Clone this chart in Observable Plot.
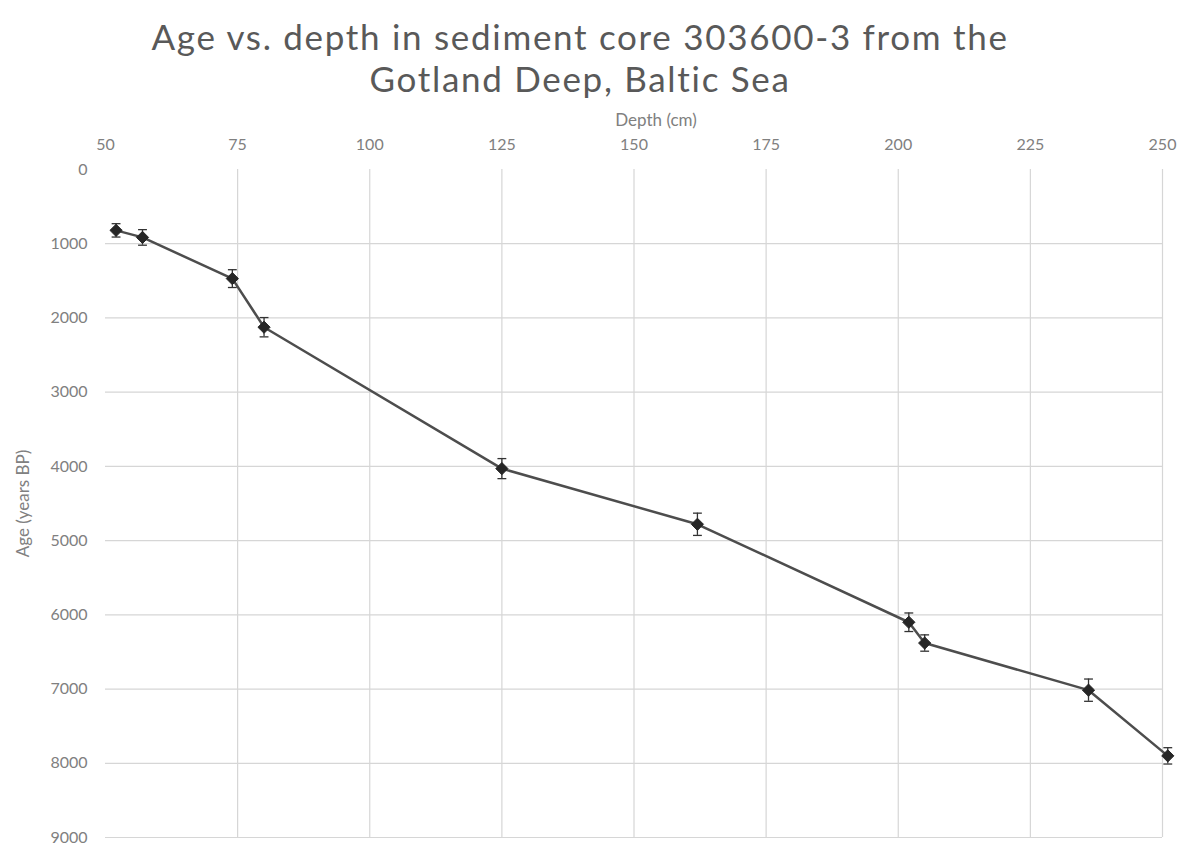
<!DOCTYPE html>
<html>
<head>
<meta charset="utf-8">
<script src="https://cdn.jsdelivr.net/npm/d3@7"></script>
<script src="https://cdn.jsdelivr.net/npm/@observablehq/plot@0.6"></script>
<style>
  html, body { margin: 0; padding: 0; background: #fff; }
  #title { height: 100px; box-sizing: border-box; padding-top: 15px; width: 1160px; text-align: center;
    font-family: Lato, "Open Sans", sans-serif; font-size: 35px; line-height: 42px; letter-spacing: 1.7px; color: #595959; }
  #chart svg { display: block; overflow: visible; }
</style>
</head>
<body>
<div id="title">Age vs. depth in sediment core 303600-3 from the<br>Gotland Deep, Baltic Sea</div>
<div id="chart"></div>
<script>
const depthCm = [52, 57, 74, 80, 125, 162, 202, 205, 236, 251];
const ageBP   = [820, 915, 1470, 2125, 4030, 4780, 6100, 6380, 7015, 7900];
const ageErr  = [90, 105, 120, 130, 135, 150, 125, 110, 150, 110];
const depthTicks = [50, 75, 100, 125, 150, 175, 200, 225, 250];
const ageTicks = [0, 1000, 2000, 3000, 4000, 5000, 6000, 7000, 8000, 9000];
const xTitle = "Depth (cm)";
const yTitle = "Age (years BP)";

const data = depthCm.map((d, i) => ({depth: d, age: ageBP[i], lo: ageBP[i] - ageErr[i], hi: ageBP[i] + ageErr[i]}));

const capSymbol = {
  draw(ctx, size) {
    const w = Math.sqrt(size) / 2;
    ctx.moveTo(-w, 0);
    ctx.lineTo(w, 0);
  }
};

const chart = Plot.plot({
  width: 1187,
  height: 744,
  marginTop: 69,
  marginBottom: 7,
  marginLeft: 105,
  marginRight: 25,
  style: {fontFamily: "Lato, 'Open Sans', sans-serif", fontSize: "16px", color: "#808080", background: "#fff"},
  x: {domain: [50, 250], label: null},
  y: {domain: [0, 9000], reverse: true, label: null},
  marks: [
    Plot.gridX(depthTicks.slice(1), {stroke: "#d6d6d6", strokeOpacity: 1, strokeWidth: 1.2}),
    Plot.gridY(ageTicks.slice(1), {stroke: "#d6d6d6", strokeOpacity: 1, strokeWidth: 1.2}),
    Plot.axisX(depthTicks, {anchor: "top", tickSize: 0, tickPadding: 20, tickFormat: d3.format("d"), fill: "#808080", label: null}),
    Plot.axisY(ageTicks, {anchor: "left", tickSize: 0, tickPadding: 18, tickFormat: d3.format("d"), fill: "#808080", label: null}),
    Plot.text([xTitle], {frameAnchor: "top", textAnchor: "middle", dy: -56, dx: 22, fill: "#808080", fontSize: 17, letterSpacing: "0.5px"}),
    Plot.text([yTitle], {frameAnchor: "left", textAnchor: "middle", dx: -82, rotate: -90, fill: "#808080", fontSize: 17, letterSpacing: "0.5px"}),
    Plot.line(data, {x: "depth", y: "age", stroke: "#4d4d4d", strokeWidth: 2.5}),
    Plot.ruleX(data, {x: "depth", y1: "lo", y2: "hi", stroke: "#333", strokeWidth: 1.3}),
    Plot.dot(data, {x: "depth", y: "lo", symbol: capSymbol, r: 5, stroke: "#333", strokeWidth: 1.3, fill: "none"}),
    Plot.dot(data, {x: "depth", y: "hi", symbol: capSymbol, r: 5, stroke: "#333", strokeWidth: 1.3, fill: "none"}),
    Plot.dot(data, {x: "depth", y: "age", symbol: "diamond2", r: 5.5, fill: "#262626", stroke: "#262626", strokeWidth: 1})
  ]
});
document.getElementById("chart").appendChild(chart);
</script>
</body>
</html>
